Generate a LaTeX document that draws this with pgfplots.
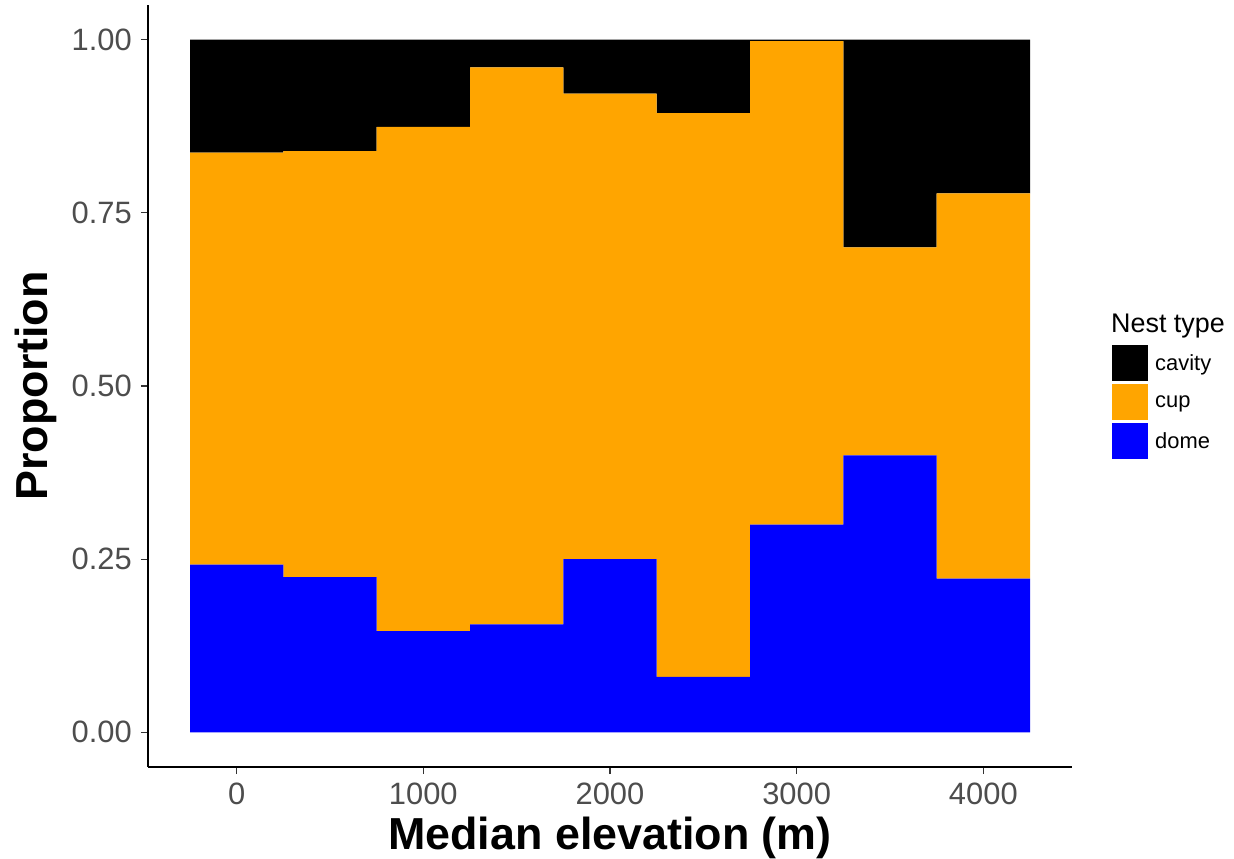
\documentclass[border=0pt]{standalone}
\usepackage{fontspec}
\setmainfont{Liberation Sans}
\usepackage{pgfplots}
\usepackage{pgfplotstable}
\pgfplotsset{compat=1.18}
\definecolor{cavitycol}{RGB}{0,0,0}
\definecolor{cupcol}{RGB}{255,165,0}
\definecolor{domecol}{RGB}{0,0,255}
\definecolor{ticklab}{RGB}{77,77,77}
\definecolor{tickcol}{RGB}{51,51,51}

\pgfplotstableread{
x dome cup cavity
0    0.242 0.595 0.163
500  0.224 0.615 0.161
1000 0.146 0.728 0.126
1500 0.156 0.804 0.040
2000 0.250 0.672 0.078
2500 0.080 0.814 0.106
3000 0.300 0.698 0.002
3500 0.400 0.300 0.300
4000 0.222 0.556 0.222
}\nestdata

\begin{document}
\begin{tikzpicture}
\useasboundingbox (0,0) rectangle (1234bp,859bp);
\begin{axis}[
  at={(148bp,92bp)}, anchor=south west,
  scale only axis, width=924bp, height=762bp,
  xmin=-475, xmax=4475, ymin=-0.05, ymax=1.05,
  ybar stacked, bar width=500,
  axis x line*=bottom, axis y line*=left,
  axis line style={line width=1.6bp, black, -},
  xtick={0,1000,2000,3000,4000}, xticklabels={0,1000,2000,3000,4000},
  ytick={0,0.25,0.5,0.75,1}, yticklabels={0.00,0.25,0.50,0.75,1.00},
  tick align=outside, major tick length=7bp,
  tick style={line width=1.1bp, tickcol},
  /pgf/number format/assume math mode=true,
  ticklabel style={font=\fontsize{31}{34}\selectfont, text=ticklab, inner sep=0pt},
  yticklabel style={xshift=-9bp},
  xticklabel style={yshift=-9bp},
  xlabel={Median elevation (m)},
  ylabel={Proportion},
  xlabel style={at={(axis description cs:0.5,0)}, anchor=base, yshift=-82bp, font=\bfseries\fontsize{45}{50}\selectfont, inner sep=0pt},
  ylabel style={at={(axis description cs:-0.1093,0.5)}, anchor=base, font=\bfseries\fontsize{45}{50}\selectfont, inner sep=0pt},
  reverse legend,
  legend image code/.code={\fill[#1] (0bp,-18bp) rectangle (36bp,18bp);},
  legend style={at={(1.0433,0.5538)}, anchor=north west, draw=none, fill=none,
    font=\fontsize{22}{26}\selectfont, inner sep=0pt, row sep=3bp, column sep=7bp,
    nodes={inner sep=0pt, anchor=west}},
  legend cell align=left,
]
\addplot[fill=domecol, draw=none] table[x=x, y=dome] {\nestdata};
\addplot[fill=cupcol, draw=none] table[x=x, y=cup] {\nestdata};
\addplot[fill=cavitycol, draw=none] table[x=x, y=cavity] {\nestdata};
\legend{dome, cup, cavity}
\end{axis}
\node[anchor=base west, font=\fontsize{27}{30}\selectfont, inner sep=0pt] at (1111bp,526bp) {Nest type};
\end{tikzpicture}
\end{document}
